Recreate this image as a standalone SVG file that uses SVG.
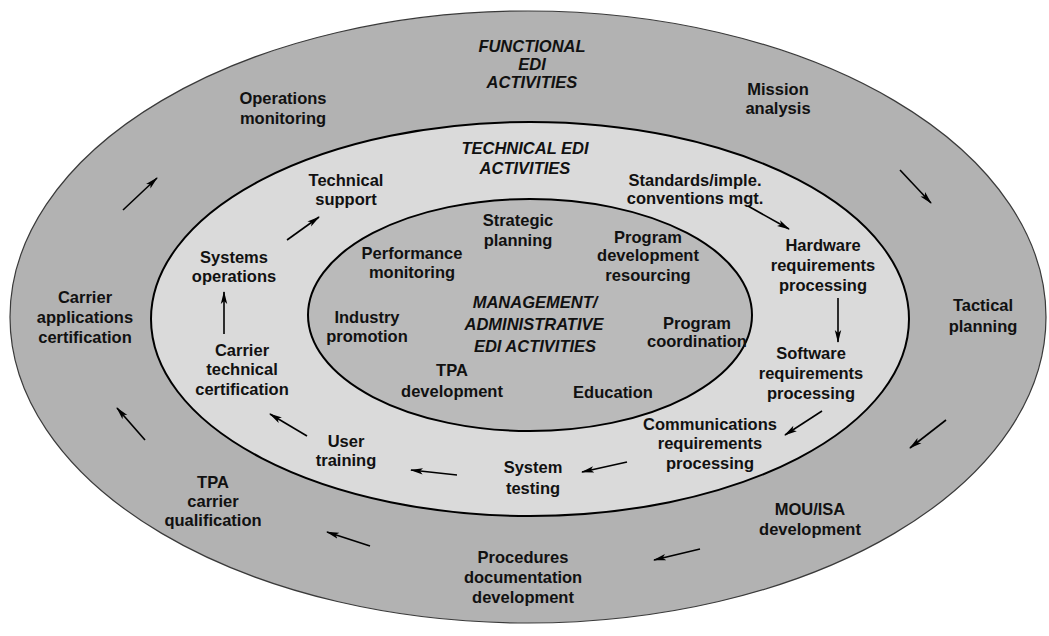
<svg xmlns="http://www.w3.org/2000/svg" width="1049" height="636" viewBox="0 0 1049 636">
  <style>
    .lbl { font-family: "Liberation Sans", Arial, Helvetica, sans-serif; font-size: 16.5px; font-weight: bold; fill: #111; text-anchor: middle; }
    .ttl { font-style: italic; }
    .ring-outer { fill: #b2b2b2; stroke: #3a3a3a; stroke-width: 1.2; }
    .ring-mid { fill: #dadada; stroke: #000; stroke-width: 2; }
    .ring-inner { fill: #bababa; stroke: #000; stroke-width: 2; }
    .arrow { stroke: #000; stroke-width: 1.6; fill: none; marker-end: url(#head); }
  </style>
  <defs>
    <marker id="head" markerWidth="13" markerHeight="8" refX="12" refY="4" orient="auto" markerUnits="userSpaceOnUse">
      <path d="M0,0.8 L13,4 L0,7.2 L3,4 Z" fill="#000"/>
    </marker>
  </defs>

  <rect width="1049" height="636" fill="#fff"/>

  <!-- concentric activity rings -->
  <g id="ring-functional">
    <ellipse class="ring-outer" cx="528" cy="317" rx="518" ry="306"/>
  </g>
  <g id="ring-technical">
    <ellipse class="ring-mid" cx="530" cy="319" rx="379" ry="197"/>
  </g>
  <g id="ring-management">
    <ellipse class="ring-inner" cx="530" cy="315" rx="222" ry="116"/>
  </g>

  <!-- functional (outer) ring -->
  <g id="title-functional">
    <text class="lbl ttl" x="532" y="52">FUNCTIONAL</text>
    <text class="lbl ttl" x="532" y="70">EDI</text>
    <text class="lbl ttl" x="532" y="88">ACTIVITIES</text>
  </g>
  <g id="mission-analysis">
    <text class="lbl" x="778" y="95">Mission</text>
    <text class="lbl" x="778" y="114">analysis</text>
  </g>
  <g id="tactical-planning">
    <text class="lbl" x="983" y="311">Tactical</text>
    <text class="lbl" x="983" y="332">planning</text>
  </g>
  <g id="mou-isa-development">
    <text class="lbl" x="810" y="515">MOU/ISA</text>
    <text class="lbl" x="810" y="535">development</text>
  </g>
  <g id="procedures-documentation">
    <text class="lbl" x="523" y="563">Procedures</text>
    <text class="lbl" x="523" y="583">documentation</text>
    <text class="lbl" x="523" y="603">development</text>
  </g>
  <g id="tpa-carrier-qualification">
    <text class="lbl" x="213" y="488">TPA</text>
    <text class="lbl" x="213" y="507">carrier</text>
    <text class="lbl" x="213" y="526">qualification</text>
  </g>
  <g id="carrier-applications-certification">
    <text class="lbl" x="85" y="303">Carrier</text>
    <text class="lbl" x="85" y="323">applications</text>
    <text class="lbl" x="85" y="343">certification</text>
  </g>
  <g id="operations-monitoring">
    <text class="lbl" x="283" y="104">Operations</text>
    <text class="lbl" x="283" y="124">monitoring</text>
  </g>

  <!-- technical (middle) ring -->
  <g id="title-technical">
    <text class="lbl ttl" x="525" y="154">TECHNICAL EDI</text>
    <text class="lbl ttl" x="525" y="174">ACTIVITIES</text>
  </g>
  <g id="standards-conventions">
    <text class="lbl" x="695" y="186">Standards/imple.</text>
    <text class="lbl" x="695" y="204">conventions mgt.</text>
  </g>
  <g id="hardware-requirements">
    <text class="lbl" x="823" y="251">Hardware</text>
    <text class="lbl" x="823" y="271">requirements</text>
    <text class="lbl" x="823" y="291">processing</text>
  </g>
  <g id="software-requirements">
    <text class="lbl" x="811" y="359">Software</text>
    <text class="lbl" x="811" y="379">requirements</text>
    <text class="lbl" x="811" y="399">processing</text>
  </g>
  <g id="communications-requirements">
    <text class="lbl" x="710" y="430">Communications</text>
    <text class="lbl" x="710" y="449">requirements</text>
    <text class="lbl" x="710" y="469">processing</text>
  </g>
  <g id="system-testing">
    <text class="lbl" x="533" y="473">System</text>
    <text class="lbl" x="533" y="494">testing</text>
  </g>
  <g id="user-training">
    <text class="lbl" x="346" y="447">User</text>
    <text class="lbl" x="346" y="466">training</text>
  </g>
  <g id="carrier-technical-certification">
    <text class="lbl" x="242" y="356">Carrier</text>
    <text class="lbl" x="242" y="375">technical</text>
    <text class="lbl" x="242" y="395">certification</text>
  </g>
  <g id="systems-operations">
    <text class="lbl" x="234" y="263">Systems</text>
    <text class="lbl" x="234" y="282">operations</text>
  </g>
  <g id="technical-support">
    <text class="lbl" x="346" y="186">Technical</text>
    <text class="lbl" x="346" y="205">support</text>
  </g>

  <!-- management/administrative (inner) ring -->
  <g id="title-management">
    <text class="lbl ttl" x="535" y="308">MANAGEMENT/</text>
    <text class="lbl ttl" x="534" y="330">ADMINISTRATIVE</text>
    <text class="lbl ttl" x="535" y="352">EDI ACTIVITIES</text>
  </g>
  <g id="strategic-planning">
    <text class="lbl" x="518" y="226">Strategic</text>
    <text class="lbl" x="518" y="246">planning</text>
  </g>
  <g id="performance-monitoring">
    <text class="lbl" x="412" y="259">Performance</text>
    <text class="lbl" x="412" y="278">monitoring</text>
  </g>
  <g id="program-development-resourcing">
    <text class="lbl" x="648" y="243">Program</text>
    <text class="lbl" x="648" y="261">development</text>
    <text class="lbl" x="648" y="281">resourcing</text>
  </g>
  <g id="industry-promotion">
    <text class="lbl" x="367" y="323">Industry</text>
    <text class="lbl" x="367" y="342">promotion</text>
  </g>
  <g id="program-coordination">
    <text class="lbl" x="697" y="329">Program</text>
    <text class="lbl" x="697" y="347">coordination</text>
  </g>
  <g id="tpa-development">
    <text class="lbl" x="452" y="376">TPA</text>
    <text class="lbl" x="452" y="397">development</text>
  </g>
  <g id="education">
    <text class="lbl" x="613" y="398">Education</text>
  </g>

  <!-- flow arrows -->
  <g id="connectors">
    <!-- functional cycle (clockwise) -->
    <line class="arrow" x1="123" y1="210" x2="157" y2="178"/>
    <line class="arrow" x1="900" y1="170" x2="931" y2="203"/>
    <line class="arrow" x1="946" y1="420" x2="910" y2="448"/>
    <line class="arrow" x1="700" y1="549" x2="654" y2="560"/>
    <line class="arrow" x1="370" y1="546" x2="327" y2="532"/>
    <line class="arrow" x1="145" y1="440" x2="117" y2="408"/>
    <!-- technical cycle -->
    <line class="arrow" x1="287" y1="240" x2="319" y2="217"/>
    <line class="arrow" x1="748" y1="206" x2="789" y2="229"/>
    <line class="arrow" x1="838" y1="298" x2="838" y2="342"/>
    <line class="arrow" x1="822" y1="411" x2="785" y2="435"/>
    <line class="arrow" x1="627" y1="462" x2="582" y2="472"/>
    <line class="arrow" x1="457" y1="475" x2="411" y2="470"/>
    <line class="arrow" x1="307" y1="436" x2="270" y2="414"/>
    <line class="arrow" x1="224" y1="334" x2="224" y2="292"/>
  </g>
</svg>
